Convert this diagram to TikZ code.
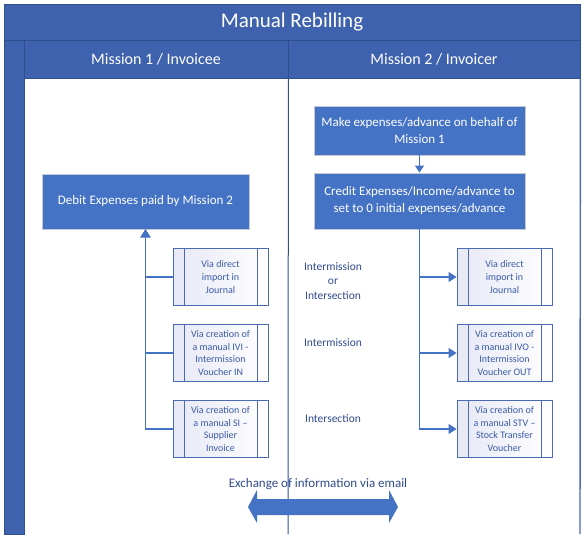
\documentclass[tikz,border=0pt]{standalone}
\usepackage{fontspec}
\setmainfont{Carlito}
\usepackage{tikz}
\usetikzlibrary{arrows.meta,positioning,calc}
\definecolor{bandBlue}{HTML}{3F62AE}
\definecolor{bandEdge}{HTML}{2F4E8E}
\definecolor{boxBlue}{HTML}{4472C4}
\definecolor{boxEdge}{HTML}{C3C8D2}
\definecolor{subEdge}{HTML}{4A6AB5}
\definecolor{subText}{HTML}{3A5BA6}
\definecolor{subTint}{HTML}{E6E8F5}
\definecolor{laneText}{HTML}{2F4A8C}

\begin{document}
\begin{tikzpicture}[x=1pt, y=-1pt, >=Stealth,
  band/.style={fill=bandBlue, draw=bandEdge, line width=0.8pt, text=white, inner sep=0pt},
  mainbox/.style={fill=boxBlue, draw=boxEdge, line width=0.8pt, text=white, align=center,
    inner sep=0pt, font=\fontsize{13}{17}\selectfont},
  viabox/.style={draw=subEdge, line width=0.9pt, left color=subTint, right color=white,
    text=subText, align=center, inner sep=0pt, minimum width=95pt, minimum height=57pt,
    font=\fontsize{10}{12.7}\selectfont,
    path picture={
      \draw[subEdge, line width=0.9pt] ([xshift=11pt]path picture bounding box.north west) -- ([xshift=11pt]path picture bounding box.south west);
      \draw[subEdge, line width=0.9pt] ([xshift=-11pt]path picture bounding box.north east) -- ([xshift=-11pt]path picture bounding box.south east);}},
  kind/.style={text=laneText, align=center, font=\fontsize{11.5}{14.5}\selectfont},
  flow/.style={draw=boxBlue, line width=1.1pt, -{Triangle[width=10pt,length=8pt]}},
  lane/.style={draw=bandEdge, line width=1pt}]
\useasboundingbox (0,0) rectangle (588,541);
% pool frame
\fill[bandBlue] (4,40) rectangle (24,534);
\draw[bandEdge, line width=0.6pt] (4,40) rectangle (24,534);
\node[band, minimum width=576pt, minimum height=36pt, font=\fontsize{21}{24}\selectfont]
  (title) at (292,22) {Manual Rebilling};
\node[band, minimum width=264pt, minimum height=38pt, font=\fontsize{16}{19}\selectfont]
  (headA) at (156,59) {Mission 1 / Invoicee};
\node[band, minimum width=292pt, minimum height=38pt, font=\fontsize{16}{19}\selectfont]
  (headB) at (434,59) {Mission 2 / Invoicer};
\draw[lane] (headA.south east) -- (288,534);
\draw[lane, draw=subEdge, line width=1.4pt] (headB.south east) -- (580,534);

% Mission 1
\node[mainbox, minimum width=207pt, minimum height=55pt] (debit) at (145.5,201.5)
  {Debit Expenses paid by Mission 2};
\node[viabox] (lvia1) at (220.5,277) {Via direct\\import in\\Journal};
\node[viabox] (lvia2) at (220.5,353) {Via creation of\\a manual IVI -\\Intermission\\Voucher IN};
\node[viabox] (lvia3) at (220.5,429) {Via creation of\\a manual SI --\\Supplier\\Invoice};
\foreach \i in {1,2,3}
  \draw[flow] (lvia\i.west) -| (debit.south);

% Mission 2
\node[mainbox, minimum width=211pt, minimum height=49pt] (make) at (419.5,130.5)
  {Make expenses/advance on behalf of\\Mission 1};
\node[mainbox, minimum width=211pt, minimum height=56pt] (credit) at (419.5,201)
  {Credit Expenses/Income/advance to\\set to 0 initial expenses/advance};
\draw[flow, -{Triangle[width=9pt,length=7pt]}] (make) -- (credit);
\node[viabox] (rvia1) at (504.5,277) {Via direct\\import in\\Journal};
\node[viabox] (rvia2) at (504.5,353) {Via creation of\\a manual IVO -\\Intermission\\Voucher OUT};
\node[viabox] (rvia3) at (504.5,429) {Via creation of\\a manual STV --\\Stock Transfer\\Voucher};
\foreach \i in {1,2,3}
  \draw[flow] (credit.south) |- (rvia\i.west);

% kind of transfer
\node[kind] (kind1) at (333,281) {Intermission\\or\\Intersection};
\node[kind] (kind2) at (333,343) {Intermission};
\node[kind] (kind3) at (333,419) {Intersection};

% exchange between missions
\fill[boxBlue] (248,507) -- (257,490) -- (257,499) -- (389,499) -- (389,490) -- (398,507)
  -- (389,523) -- (389,515) -- (257,515) -- (257,523) -- cycle;
\node[text=laneText, font=\fontsize{13}{16}\selectfont] (mail) at (318,484)
  {Exchange of information via email};
\end{tikzpicture}
\end{document}
